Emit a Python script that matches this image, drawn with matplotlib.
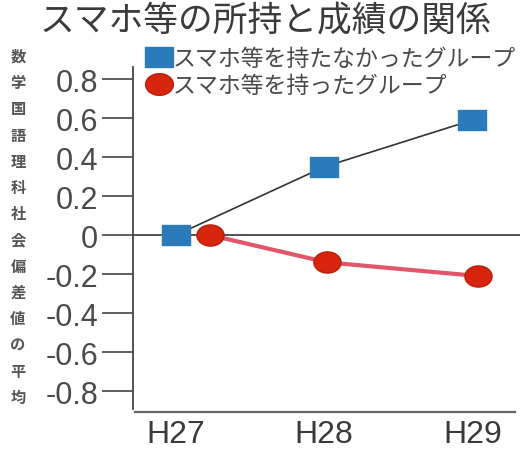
import matplotlib
matplotlib.use("Agg")
import matplotlib.pyplot as plt
import numpy as np
from matplotlib.path import Path
from matplotlib.lines import Line2D

plt.rcParams['font.family'] = ['Noto Sans CJK JP', 'DejaVu Sans']

# Data
years = ["H27", "H28", "H29"]
no_phone = [0.0, 0.35, 0.59]      # group without smartphones
with_phone = [0.0, -0.14, -0.21]  # group with smartphones
y_ticks = [0.8, 0.6, 0.4, 0.2, 0, -0.2, -0.4, -0.6, -0.8]
y_tick_labels = ["0.8", "0.6", "0.4", "0.2", "0", "-0.2", "-0.4", "-0.6", "-0.8"]
title = "スマホ等の所持と成績の関係"
ylabel = "数学国語理科社会偏差値の平均"
labels = ["スマホ等を持たなかったグループ", "スマホ等を持ったグループ"]

# small horizontal dodge so overlapping markers stay visible
red_dodge = [0.23, 0.02, 0.04]

BLUE = "#2b7bba"
RED = "#d8260e"
RED_LINE = "#e0566a"
GRAY = "#444444"

# wide-ish markers
rect = Path([(-1, -0.74), (1, -0.74), (1, 0.74), (-1, 0.74), (-1, -0.74)],
            [Path.MOVETO, Path.LINETO, Path.LINETO, Path.LINETO, Path.CLOSEPOLY])
t = np.linspace(0, 2 * np.pi, 60)
ell = Path(np.column_stack([np.cos(t), 0.78 * np.sin(t)]), closed=True)

fig = plt.figure(figsize=(5.22, 4.52), dpi=100)
ax = fig.add_axes([0.2548, 0.0929, 0.741, 0.7566])

x = np.arange(len(years))
xr = x + np.array(red_dodge)

ax.axhline(0, color=GRAY, lw=1.3, zorder=1)
ax.plot(x, no_phone, color="#333333", lw=1.2, zorder=2)
ax.plot(x, no_phone, ls="none", marker=rect, ms=19.5, mfc=BLUE, mec=BLUE, zorder=4)
ax.plot(xr, with_phone, color=RED_LINE, lw=3.0, zorder=3)
ax.plot(xr, with_phone, ls="none", marker=ell, ms=19.5, mfc=RED, mec="#b81d0b",
        mew=1.0, zorder=4)

ax.set_xlim(-0.29, 2.32)
ax.set_ylim(-0.892, 0.862)

for s in ["top", "right"]:
    ax.spines[s].set_visible(False)
ax.spines["left"].set_color(GRAY)
ax.spines["left"].set_linewidth(1.3)
ax.spines["bottom"].set_position(("outward", 2.5))
ax.spines["bottom"].set_bounds(-0.275, 2.29)
ax.spines["bottom"].set_color("#666666")
ax.spines["bottom"].set_linewidth(1.6)

ax.set_yticks(y_ticks)
ax.set_yticklabels(y_tick_labels, family=["Liberation Sans", "DejaVu Sans"])
ax.tick_params(axis="y", direction="out", length=22, width=1.2, color=GRAY,
               labelsize=22, labelcolor="#4a4a4a", pad=3)
ax.set_xticks(x)
ax.set_xticklabels(years, family=["Liberation Sans", "DejaVu Sans"])
ax.tick_params(axis="x", length=0, labelsize=23, labelcolor="#3a3a3a", pad=5)

fig.text(0.508, 0.953, title, ha="center", va="center", fontsize=25, color="#3a3a3a")

# vertical axis caption, one character per row
n = len(ylabel)
for i, ch in enumerate(ylabel):
    yp = 57 + i * (398 - 57) / (n - 1)
    fig.text(18 / 522, 1 - yp / 452, ch, ha="center", va="center", fontsize=11,
             color="#555555", fontweight="bold")

handles = [
    Line2D([], [], ls="none", marker=rect, ms=20, mfc=BLUE, mec=BLUE),
    Line2D([], [], ls="none", marker=ell, ms=20, mfc=RED, mec="#b81d0b"),
]
leg = fig.legend(handles, labels, loc="upper left", bbox_to_anchor=(0.281, 0.893),
                 frameon=False, fontsize=16.5, handlelength=1.05, handletextpad=0.1,
                 labelspacing=0.15, borderpad=0, borderaxespad=0)
for txt in leg.get_texts():
    txt.set_color("#4a4a4a")

fig.savefig("out.png", dpi=100)
